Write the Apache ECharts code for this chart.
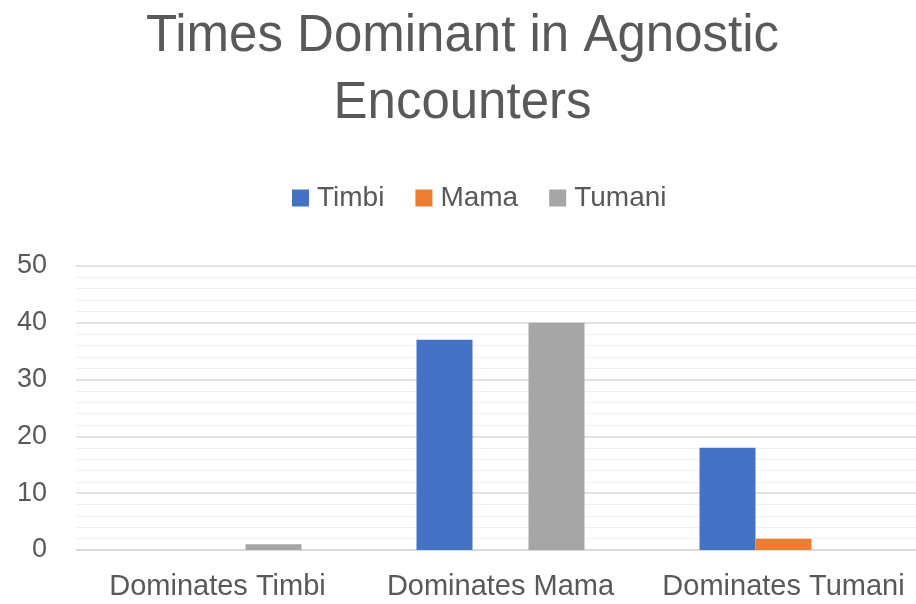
<!DOCTYPE html>
<html>
<head>
<meta charset="utf-8">
<script src="https://cdn.jsdelivr.net/npm/echarts@6/dist/echarts.min.js"></script>
<style>
  html, body { margin: 0; padding: 0; background: #fff; overflow: hidden; }
  /* the plot area runs a little past the right edge, as in the original */
  #chart { width: 925px; height: 604px; }
</style>
</head>
<body>
<div id="chart"></div>
<script>
// chart data
const categories = ['Dominates Timbi', 'Dominates Mama', 'Dominates Tumani'];
const timbi = [0, 37, 18];
const mama = [0, 0, 2];
const tumani = [1, 40, 0];
const yTicks = [0, 10, 20, 30, 40, 50];

const textColor = '#595959';
const fontFamily = '"Liberation Sans", Arial, sans-serif';

const makeSeries = (name, data, color) => ({
  name,
  type: 'bar',
  data,
  barWidth: 56,
  barGap: '0%',
  itemStyle: { color },
});

const chart = echarts.init(document.getElementById('chart'));

chart.setOption({
  animation: false,
  textStyle: { fontFamily },
  title: {
    text: 'Times Dominant in Agnostic\nEncounters',
    left: 'center',
    top: -2,
    textStyle: {
      color: textColor,
      fontSize: 51,
      fontWeight: 'normal',
      lineHeight: 67,
      fontFamily,
    },
  },
  legend: {
    left: 287,
    top: 179,
    itemWidth: 17,
    itemHeight: 17,
    itemGap: 31,
    icon: 'rect',
    textStyle: { color: textColor, fontSize: 28, padding: [0, 0, 0, 3], fontFamily },
    data: ['Timbi', 'Mama', 'Tumani'],
  },
  grid: {
    left: 76,
    right: 0,
    top: 266,
    bottom: 54,
    containLabel: false,
  },
  xAxis: {
    type: 'category',
    data: categories,
    axisLine: { show: true, lineStyle: { color: '#d9d9d9', width: 1.5 } },
    axisTick: { show: false },
    axisLabel: { color: textColor, fontSize: 29, margin: 22, interval: 0, hideOverlap: false, fontFamily },
  },
  yAxis: {
    type: 'value',
    min: yTicks[0],
    max: yTicks[yTicks.length - 1],
    interval: 10,
    axisLine: { show: false },
    axisTick: { show: false },
    axisLabel: { color: textColor, fontSize: 27, margin: 29, fontFamily },
    splitLine: { lineStyle: { color: '#d9d9d9', width: 1.5 } },
    minorTick: { show: false, splitNumber: 5 },
    minorSplitLine: { show: true, lineStyle: { color: '#f0f0f0', width: 1.2 } },
  },
  series: [
    makeSeries('Timbi', timbi, '#4472C4'),
    makeSeries('Mama', mama, '#ED7D31'),
    makeSeries('Tumani', tumani, '#A5A5A5'),
  ],
});
</script>
</body>
</html>
